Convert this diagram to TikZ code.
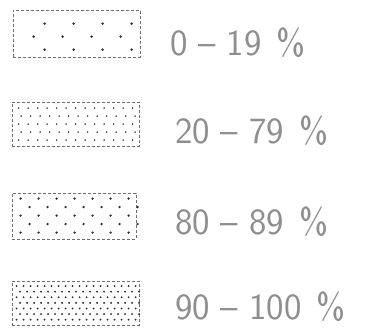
\documentclass[tikz,border=0pt]{standalone}
\usetikzlibrary{positioning,calc}
\definecolor{scan}{HTML}{6E6E6E}
\definecolor{speck}{HTML}{2E2E2E}
\definecolor{faded}{HTML}{8E8E8E}

\tikzset{
  legbox/.style={draw=scan,densely dashed,line width=.8pt,inner sep=0pt,
    minimum width=127pt,minimum height=44pt},
  leglabel/.style={anchor=west,text=faded,inner sep=0pt,
    font=\sffamily\fontsize{37}{40}\selectfont},
  speckle/.style={fill=speck}
}
\newcommand{\rng}[2]{#1\hspace{11pt}--\hspace{11pt}#2\hspace{15pt}\%}

\begin{document}
\begin{tikzpicture}[x=1pt,y=1pt]
  \useasboundingbox (0,0) rectangle (392,335);

  % legend boxes, top to bottom
  \node[legbox,minimum height=47pt] (sparse) at (76.5,301.5) {};
  \node[legbox] (low)  at (75.5,210.5) {};
  \node[legbox,minimum width=124pt,minimum height=46pt] (mid) at (74,119) {};
  \node[legbox] (full) at (75.5,31.5) {};

  % 0-19: a few loose specks in staggered rows
  \foreach \r/\off in {0/11,1/0,2/11} {
    \foreach \c in {0,...,3}
      \fill[speckle] ($(sparse.north west)+(21+\off+29*\c,-14-13*\r)$) circle (1.4);
  }

  % 20-79: fine grid of small dots
  \foreach \r/\off in {0/0,1/2.5,2/0,3/2.5,4/0} {
    \foreach \c in {0,...,12}
      \fill[speckle] ($(low.north west)+(7+\off+9.5*\c,-6-8*\r)$) circle (.85);
  }

  % 80-89: medium dots, staggered
  \foreach \r/\off in {0/0,1/9,2/0,3/9,4/0} {
    \foreach \c in {0,...,6}
      \fill[speckle] ($(mid.north west)+(9+\off+18*\c,-6-8.5*\r)$) circle (1.3);
  }

  % 90-100: dense regular dots
  \foreach \r/\off in {0/0,1/3.5,2/0,3/3.5,4/0,5/3.5,6/0} {
    \foreach \c in {0,...,17}
      \fill[speckle] ($(full.north west)+(5+\off+7*\c,-5-5.6*\r)$) circle (1.05);
  }

  \node[leglabel] (lsparse) at (170,292) {\rng{0}{19}};
  \node[leglabel] (llow)    at (175,204) {\rng{20}{79}};
  \node[leglabel] (lmid)    at (175,113) {\rng{80}{89}};
  \node[leglabel] (lfull)   at (175,28)  {\rng{90}{100}};
\end{tikzpicture}
\end{document}
